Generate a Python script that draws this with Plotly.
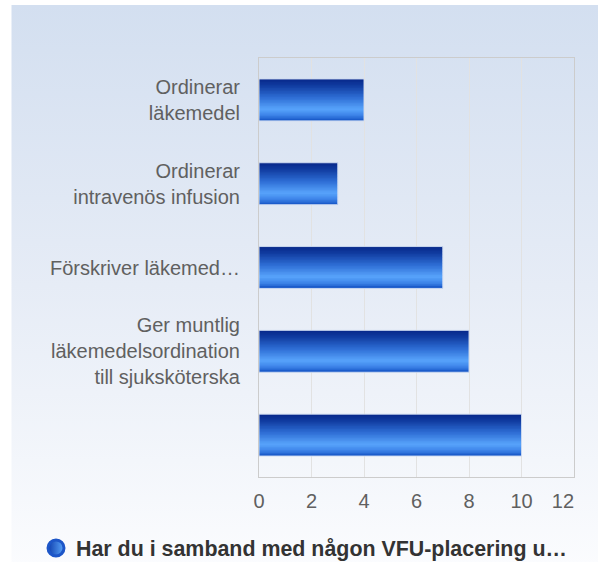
import base64
import plotly.graph_objects as go

# ---- data ----
categories = [
    "Ordinerar<br>läkemedel",
    "Ordinerar<br>intravenös infusion",
    "Förskriver läkemed…",
    "Ger muntlig<br>läkemedelsordination<br>till sjuksköterska",
    "",
]
values = [4, 3, 7, 8, 10]
x_ticks = [0, 2, 4, 6, 8, 10, 12]
series_name = "Har du i samband med någon VFU-placering u…"

# ---- layout constants ----
W, H = 598, 562
ML, MR, MT, MB = 259, 24, 58, 85
PW, PH = W - ML - MR, H - MT - MB
BAR_W = 0.5
N_STRIPS = 28

positions = list(range(len(values)))

grad_stops = [
    (0.00, (8, 40, 138)),
    (0.15, (15, 58, 158)),
    (0.45, (47, 111, 214)),
    (0.72, (88, 164, 251)),
    (0.86, (63, 134, 234)),
    (1.00, (22, 86, 198)),
]


def grad_color(t):
    for (t0, c0), (t1, c1) in zip(grad_stops[:-1], grad_stops[1:]):
        if t0 <= t <= t1:
            f = (t - t0) / (t1 - t0) if t1 > t0 else 0
            c = [round(a + (b - a) * f) for a, b in zip(c0, c1)]
            return "rgb(%d,%d,%d)" % tuple(c)
    return "rgb(%d,%d,%d)" % grad_stops[-1][1]


fig = go.Figure()

step = BAR_W / N_STRIPS
for i in range(N_STRIPS):
    t = (i + 0.5) / N_STRIPS
    w = step * (1.6 if i < N_STRIPS - 1 else 1.0)
    fig.add_trace(go.Bar(
        x=values, y=positions, orientation="h",
        width=w, offset=-BAR_W / 2 + i * step,
        marker=dict(color=grad_color(t), line=dict(width=0)),
        showlegend=False, hoverinfo="skip",
    ))

# outline on top
fig.add_trace(go.Bar(
    x=values, y=positions, orientation="h",
    width=BAR_W, offset=-BAR_W / 2,
    marker=dict(color="rgba(0,0,0,0)", line=dict(color="rgba(205,218,240,0.95)", width=1)),
    showlegend=False, hoverinfo="skip",
))

# legend entry
fig.add_trace(go.Scatter(
    x=[None], y=[None], mode="markers", name=series_name,
    marker=dict(symbol="circle", size=16, color="#0f3fae",
                gradient=dict(type="horizontal", color="#5aa5fa"),
                line=dict(color="#1d56c8", width=3)),
))

# background gradient as svg image
svg = f'''<svg xmlns="http://www.w3.org/2000/svg" width="{W}" height="{H}" viewBox="0 0 {W} {H}" preserveAspectRatio="none">
<defs><linearGradient id="g" x1="0" y1="0" x2="0" y2="1">
<stop offset="0" stop-color="#d3dff0"/><stop offset="0.5" stop-color="#e6ecf6"/><stop offset="1" stop-color="#fbfcfe"/>
</linearGradient></defs>
<rect x="0" y="0" width="{W}" height="{H}" fill="#ffffff"/>
<rect x="11.5" y="5" width="{W}" height="{H}" fill="url(#g)"/>
</svg>'''
uri = "data:image/svg+xml;base64," + base64.b64encode(svg.encode()).decode()

fig.add_layout_image(dict(
    source=uri, xref="paper", yref="paper",
    x=-ML / PW, y=1 + MT / PH, sizex=W / PW, sizey=H / PH,
    xanchor="left", yanchor="top", sizing="stretch", layer="below",
))

tick_text = [str(v) for v in x_ticks]
tick_text[-1] = tick_text[-1] + "\u00a0\u00a0\u00a0\u00a0"

fig.update_layout(
    width=W, height=H,
    margin=dict(l=ML, r=MR, t=MT, b=MB, pad=0, autoexpand=False),
    paper_bgcolor="white",
    plot_bgcolor="rgba(0,0,0,0)",
    barmode="overlay",
    font=dict(family="Liberation Sans, Arial, sans-serif", color="#606060", size=20),
    showlegend=True,
    legend=dict(
        orientation="h", xref="container", yref="container",
        x=36 / W, xanchor="left", y=1 - 548 / H, yanchor="middle",
        font=dict(size=21.4, color="#333333", weight="bold"),
        bgcolor="rgba(0,0,0,0)", itemsizing="trace",
    ),
    xaxis=dict(
        range=[0, 12], tickvals=x_ticks, ticktext=tick_text, automargin=False,
        showgrid=True, gridcolor="#e2e2e2", gridwidth=1,
        zeroline=False, showline=True, linecolor="#cccccc", linewidth=1, mirror=True,
        ticks="outside", ticklen=6, tickcolor="rgba(0,0,0,0)",
        tickfont=dict(size=20, color="#606060"), fixedrange=True,
    ),
    yaxis=dict(
        range=[len(values) - 0.5, -0.5], tickvals=positions, ticktext=categories, automargin=False,
        showgrid=False, zeroline=False, showline=True, linecolor="#cccccc", linewidth=1, mirror=True,
        ticks="outside", ticklen=14, tickcolor="rgba(0,0,0,0)",
        tickfont=dict(size=20, color="#606060"), fixedrange=True,
    ),
)

fig.write_html(
    "out.html",
    config={"displayModeBar": False},
    post_script="document.body.style.margin='0';document.body.style.overflow='hidden';",
)
